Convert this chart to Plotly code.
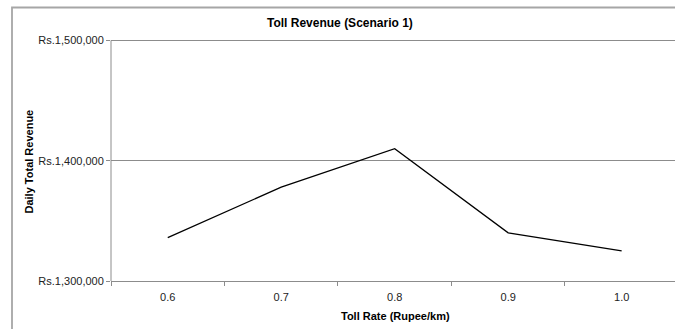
import plotly.graph_objects as go

# Toll rate categories (Rupee/km) and daily total revenue (Rs.)
toll_rates = ["0.6", "0.7", "0.8", "0.9", "1.0"]
daily_revenue = [1336000, 1378000, 1410000, 1340000, 1325000]

y_ticks = [1300000, 1400000, 1500000]
y_tick_labels = [f"Rs.{v:,}" for v in y_ticks]

W, H = 675, 329
L, R, T, B = 111, 0, 38, 48

FONT = "Liberation Sans, Arial, sans-serif"
GRID = "#8c8c8c"

fig = go.Figure(
    go.Scatter(
        x=toll_rates,
        y=daily_revenue,
        mode="lines",
        line=dict(color="#000000", width=1.3),
        showlegend=False,
        hoverinfo="x+y",
    )
)


def px_x(px):
    return (px - L) / (W - L - R)


def px_y(py):
    return (H - B - py) / (H - T - B)


# Outer chart frame (left and top edges)
fig.add_shape(
    type="path",
    xref="paper", yref="paper",
    path=f"M {px_x(12)},{px_y(340)} L {px_x(12)},{px_y(7.5)} L {px_x(680)},{px_y(7.5)}",
    line=dict(color="#a6a6a6", width=1.8),
    layer="above",
)

# Value axis line spanning only the tick range
fig.add_shape(
    type="line",
    xref="paper", yref="y",
    x0=0, x1=0, y0=y_ticks[0], y1=y_ticks[-1],
    line=dict(color=GRID, width=1),
    layer="above",
)

fig.add_annotation(
    text="<b>Toll Revenue (Scenario 1)</b>",
    xref="paper", yref="paper",
    x=px_x(340), y=px_y(22.5),
    xanchor="center", yanchor="middle",
    showarrow=False,
    font=dict(family=FONT, size=12, color="#000"),
)
fig.add_annotation(
    text="<b>Toll Rate (Rupee/km)</b>",
    xref="paper", yref="paper",
    x=px_x(395), y=px_y(315.5),
    xanchor="center", yanchor="middle",
    showarrow=False,
    font=dict(family=FONT, size=11, color="#000"),
)
fig.add_annotation(
    text="<b>Daily Total Revenue</b>",
    xref="paper", yref="paper",
    x=px_x(28.5), y=px_y(162),
    xanchor="center", yanchor="middle",
    showarrow=False,
    textangle=-90,
    font=dict(family=FONT, size=11, color="#000"),
)

fig.update_layout(
    width=W, height=H,
    margin=dict(l=L, r=R, t=T, b=B, pad=0),
    paper_bgcolor="#ffffff",
    plot_bgcolor="#ffffff",
    font=dict(family=FONT, size=11, color="#222"),
    xaxis=dict(
        type="category",
        range=[-0.5, 4.47],
        tickson="boundaries",
        ticks="outside",
        ticklen=4,
        tickcolor=GRID,
        ticklabelstandoff=6,
        showgrid=False,
        showline=True,
        linecolor=GRID,
        linewidth=1,
        zeroline=False,
        tickfont=dict(family=FONT, size=11, color="#222"),
        fixedrange=True,
    ),
    yaxis=dict(
        range=[1300000, 1502000],
        tickmode="array",
        tickvals=y_ticks,
        ticktext=y_tick_labels,
        ticks="outside",
        ticklen=4,
        tickcolor=GRID,
        showgrid=True,
        gridcolor=GRID,
        gridwidth=1,
        showline=False,
        zeroline=False,
        tickfont=dict(family=FONT, size=11, color="#222"),
        fixedrange=True,
    ),
)

fig.write_html("out.html")
